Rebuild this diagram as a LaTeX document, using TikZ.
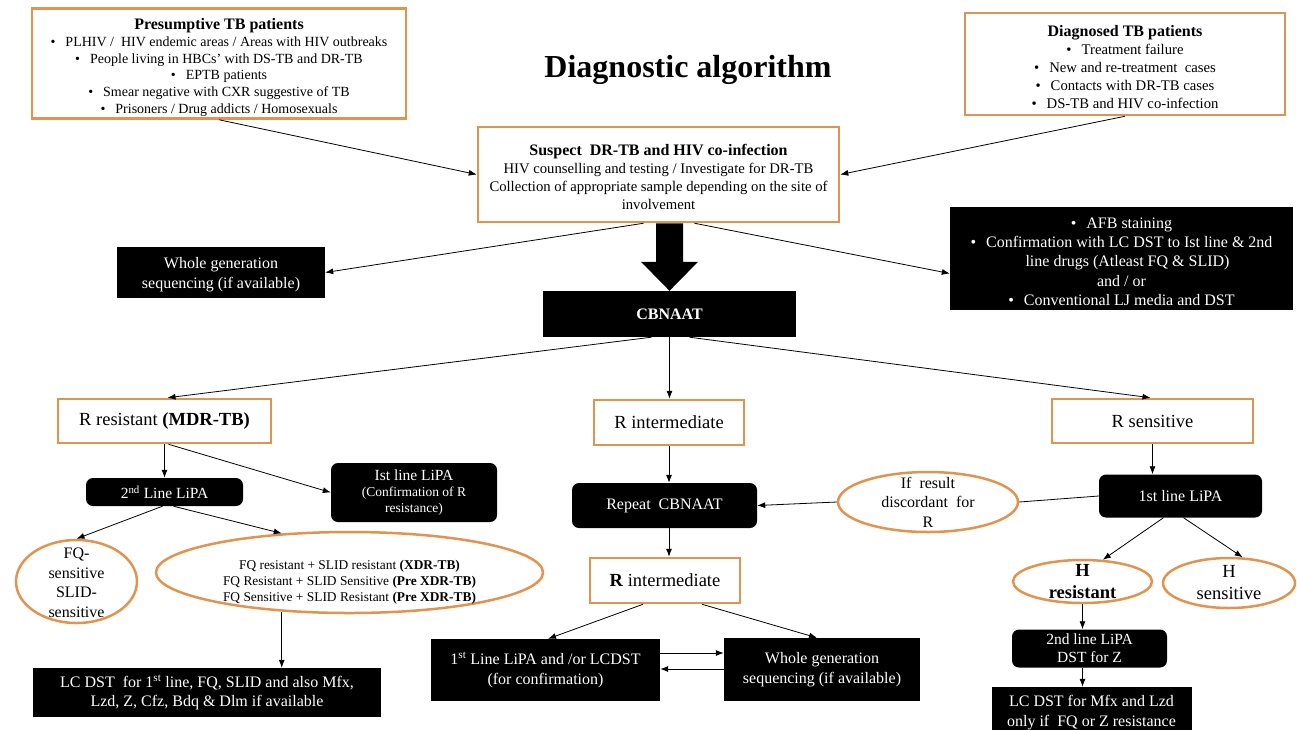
\documentclass[tikz,border=0pt]{standalone}
\usepackage{fontspec}
\setmainfont{Liberation Serif}
\usetikzlibrary{arrows.meta,shapes.geometric,calc}
\definecolor{org}{RGB}{224,148,80}
\newcommand{\fz}[2]{\fontsize{#1}{#2}\selectfont}
\newcommand{\bu}{\textbullet\hspace{10pt}}
\tikzset{
 ob/.style={draw=org, line width=2.5pt, fill=white, inner sep=2pt, align=center},
 bb/.style={fill=black, text=white, inner sep=2pt, align=center},
 rb/.style={bb, rounded corners=7pt},
 oe/.style={draw=org, line width=2.5pt, ellipse, inner sep=0pt},
 lbl/.style={align=center, inner sep=0pt},
 arr/.style={draw, line width=0.8pt, -{Latex[length=8pt,width=6pt]}},
 ln/.style={draw, line width=0.8pt},
}
\begin{document}
\begin{tikzpicture}[x=1pt,y=-1pt]
\fill[white] (0,0) rectangle (1297,729);
\useasboundingbox (0,0) rectangle (1297,729);

\node[ob, minimum width=374, minimum height=103, font=\fz{14}{16.8}] (pres) at (219,63.5)
 {{\fz{16}{18}\bfseries\rule{0pt}{19pt}Presumptive TB patients}\\
  \bu PLHIV /\ \ HIV endemic areas / Areas with HIV outbreaks\\
  \bu People living in HBCs’ with DS-TB and DR-TB\\
  \bu EPTB patients\\
  \bu Smear negative with CXR suggestive of TB\\
  \bu Prisoners / Drug addicts / Homosexuals};
\node[ob, minimum width=320, minimum height=102, font=\fz{14.7}{18}] (diag) at (1125,64)
 {{\fz{16}{18}\bfseries\rule{0pt}{17pt}Diagnosed TB patients}\\
  \bu Treatment failure\\
  \bu New and re-treatment\ \ cases\\
  \bu Contacts with DR-TB cases\\
  \bu DS-TB and HIV co-infection};
\node[font=\fz{32}{38}\bfseries] (title) at (688,70) {Diagnostic algorithm};
\node[ob, minimum width=361, minimum height=95, font=\fz{14.7}{18}] (sus) at (658.5,174.5)
 {{\fz{16}{18}\bfseries\rule{0pt}{17pt}Suspect\ \ DR-TB and HIV co-infection}\\
  HIV counselling and testing / Investigate for DR-TB\\
  Collection of appropriate sample depending on the site of\\
  involvement};
\node[bb, minimum width=208, minimum height=51, font=\fz{16}{20}] (wgs1) at (221,272.5)
 {\rule{0pt}{15pt}Whole generation\\ sequencing (if available)};
\node[bb, minimum width=343, minimum height=103, font=\fz{16}{19.2}] (afb) at (1121.5,258.5)
 {\rule{0pt}{17pt}\bu AFB staining\\
  \bu Confirmation with LC DST to Ist line \& 2nd\\
  \hspace*{12pt}line drugs (Atleast FQ \& SLID)\\
  and / or\\
  \bu Conventional LJ media and DST};
\node[bb, minimum width=253, minimum height=46, font=\fz{16}{19}\bfseries] (cb) at (669.5,314) {CBNAAT};

\node[ob, minimum width=213, minimum height=44, font=\fz{18.5}{22}] (rres) at (164.5,421) {R resistant \textbf{(MDR-TB)}};
\node[ob, minimum width=150, minimum height=45, font=\fz{18.5}{22}] (rint) at (669,422.5) {R intermediate};
\node[ob, minimum width=201, minimum height=44, font=\fz{18.5}{22}] (rsen) at (1152.5,421) {R sensitive};

\node[rb, minimum width=157, minimum height=28, font=\fz{15.5}{18}] (lipa2) at (164.5,492) {2\textsuperscript{nd} Line LiPA};
\node[rb, minimum width=166, minimum height=59, font=\fz{13.5}{16}] (lipa1a) at (414,492.5)
 {{\fz{15.5}{18}Ist line LiPA}\\ (Confirmation of R\\ resistance)};
\node[oe, minimum width=121, minimum height=83,
 label={[lbl, font=\fz{16}{19.5}, yshift=-1.5pt]center:{FQ-\\ sensitive\\ SLID-\\ sensitive}}] (fqs) at (76.5,581.5) {};
\node[oe, minimum width=387, minimum height=81,
 label={[lbl, font=\fz{13.4}{16}, yshift=-10pt]center:{FQ resistant + SLID resistant \textbf{(XDR-TB)}\\
 FQ Resistant + SLID Sensitive \textbf{(Pre XDR-TB)}\\
 FQ Sensitive + SLID Resistant \textbf{(Pre XDR-TB)}}}] (xdr) at (349.5,572.5) {};
\node[bb, minimum width=348, minimum height=49, font=\fz{16}{19}] (lcdst) at (207,692.5)
 {LC DST\ \ for 1\textsuperscript{st} line, FQ, SLID and also Mfx,\\ Lzd, Z, Cfz, Bdq \& Dlm if available};

\node[rb, minimum width=185, minimum height=45, font=\fz{16}{19}] (rep) at (664.5,505.5) {Repeat\ \ CBNAAT};
\node[ob, minimum width=150, minimum height=45, font=\fz{18.5}{22}] (rint2) at (665,580.5) {\textbf{R} intermediate};
\node[bb, minimum width=229, minimum height=62, font=\fz{16}{20}] (lipa1b) at (545.5,670)
 {1\textsuperscript{st} Line LiPA and /or LCDST\\ (for confirmation)};
\node[bb, minimum width=196, minimum height=63, font=\fz{16}{20}] (wgs2) at (822,669.5)
 {Whole generation\\ sequencing (if available)};

\node[oe, minimum width=180, minimum height=60,
 label={[lbl, font=\fz{16}{19.5}]center:{If\ \ result\\ discordant\ \ for\\ R}}] (disc) at (928,502) {};
\node[rb, minimum width=163, minimum height=43, font=\fz{16}{19}] (lipa1c) at (1180.5,496) {1st line LiPA};
\node[oe, minimum width=139, minimum height=43,
 label={[lbl, font=\fz{18.5}{22}\bfseries]center:{H\\ resistant}}] (hres) at (1082.5,581.5) {};
\node[oe, minimum width=132, minimum height=50,
 label={[lbl, font=\fz{18.5}{22}]center:{H\\ sensitive}}] (hsen) at (1229,583) {};
\node[rb, minimum width=155, minimum height=38, font=\fz{15.5}{18}] (lipa2c) at (1089.5,648.5)
 {2nd line LiPA\\ DST for Z};
\node[bb, minimum width=200, minimum height=52, font=\fz{16}{20}] (lcmfx) at (1091.5,713)
 {LC DST for Mfx and Lzd\\ only if\ \ FQ or Z resistance};

% connectors
\draw[arr] (pres.south) -- (sus.west);
\draw[arr] (diag.south) -- (sus.east);
\draw[arr] ($(sus.south)+(-15,0)$) -- (wgs1.east);
\draw[arr] ($(sus.south)+(36,0)$) -- ($(afb.west)+(0,15)$);
\fill (cb.north) -- ($(cb.north)+(-28.5,-29)$) -- ($(cb.north)+(-13.5,-29)$)
  -- ($(cb.north |- sus.south)+(-13.5,0)$) -- ($(cb.north |- sus.south)+(13.5,0)$)
  -- ($(cb.north)+(13.5,-29)$) -- ($(cb.north)+(28.5,-29)$) -- cycle;
\draw[arr] ($(cb.south)+(-18,0)$) -- ($(rres.north)+(3,0)$);
\draw[arr] (cb.south) -- (cb.south |- rint.north);
\draw[arr] ($(cb.south)+(20,0)$) -- ($(rsen.north)+(-2,0)$);

\draw[arr] (rres.south) -- (lipa2.north);
\draw[arr] ($(rres.south)+(4,0)$) -- (lipa1a.west);
\draw[arr] ($(lipa2.south)+(-2,0)$) -- (fqs.north);
\draw[arr] ($(lipa2.south)+(9,0)$) -- (xdr.150);
\draw[arr] (xdr.-150) -- (xdr.-150 |- lcdst.north);

\draw[arr] (rint.south) -- (rint.south |- rep.north);
\draw[arr] (rint.south |- rep.south) -- (rint.south |- rint2.north);
\draw[arr] ($(rint2.south)+(-22,0)$) -- ($(lipa1b.north)+(2.5,0)$);
\draw[arr] ($(rint2.south)+(37,0)$) -- ($(wgs2.north)+(-5,0)$);
\draw[arr] ($(lipa1b.east)+(0,-17)$) -- ($(wgs2.west)+(0,-16.5)$);
\draw[arr] ($(wgs2.west)+(0,-0.5)$) -- ($(lipa1b.east)+(0,-1)$);

\draw[arr] (rsen.south) -- (rsen.south |- lipa1c.north);
\draw[ln] (lipa1c.west) -- (disc.east);
\draw[arr] (disc.west) -- (rep.east);
\draw[arr] ($(lipa1c.south)+(-17,0)$) -- (hres.47);
\draw[arr] ($(lipa1c.south)+(3,0)$) -- (hsen.62);
\draw[arr] (hres.south) -- (hres.south |- lipa2c.north);
\draw[arr] (hres.south |- lipa2c.south) -- (hres.south |- lcmfx.north);
\end{tikzpicture}
\end{document}
